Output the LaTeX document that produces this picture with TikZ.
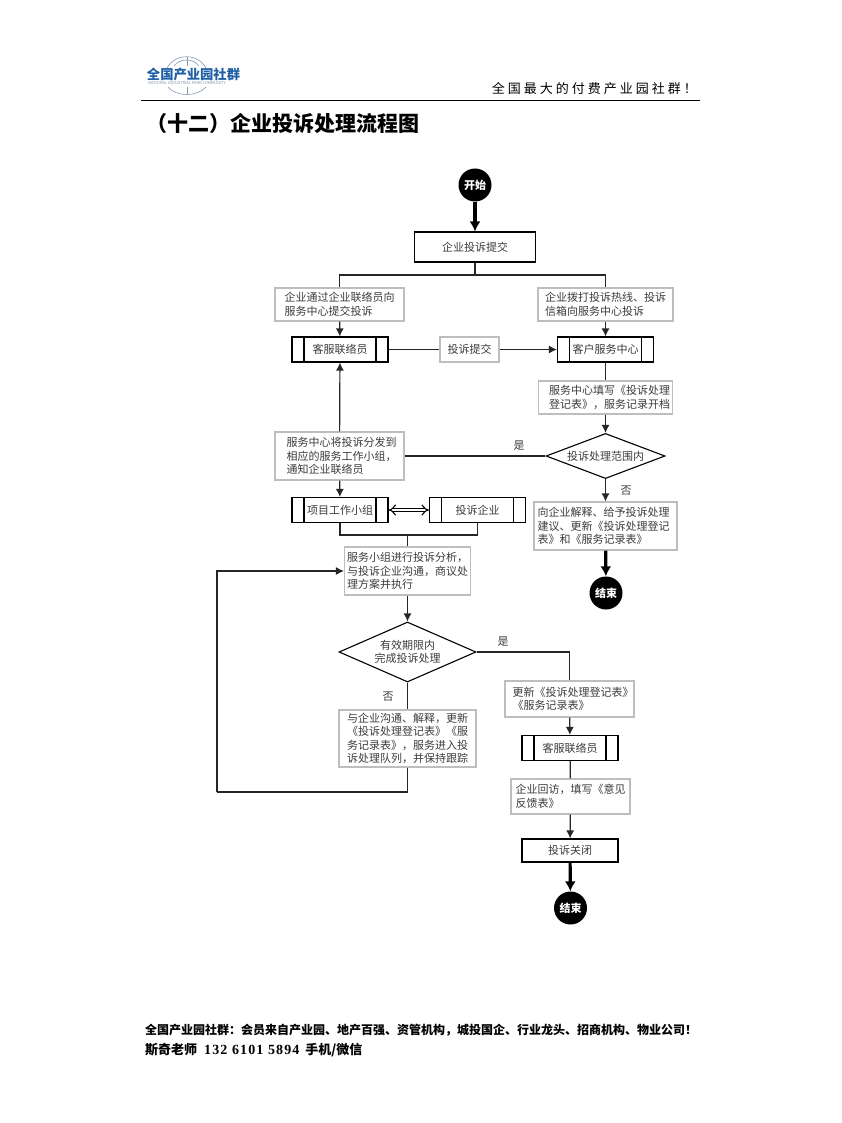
\documentclass[tikz,border=0pt]{standalone}
\usepackage{fontspec}
\usepackage{xcolor}
\usetikzlibrary{arrows.meta,positioning,calc,shapes.geometric}
\setmainfont{Noto Sans CJK SC}
\newfontfamily\spacedfont[LetterSpace=23]{Noto Sans CJK SC}
\newfontfamily\numfont[LetterSpace=8]{Liberation Serif}
\definecolor{flowBoxGray}{RGB}{190,190,190}
\definecolor{flowTextGray}{RGB}{60,60,60}
\definecolor{logoBlue}{RGB}{30,95,165}
\definecolor{logoGray}{RGB}{130,150,180}
\tikzset{
  notebox/.style={draw=flowBoxGray,line width=1.1pt,fill=white,text=flowTextGray,align=left,font=\fontsize{11}{13.5}\selectfont,inner sep=0pt},
  framebox/.style={draw=black,line width=1.1pt,fill=white,text=flowTextGray,font=\fontsize{11}{13.5}\selectfont,inner sep=0pt},
  rolebox/.style={framebox,minimum width=96pt,minimum height=25pt,path picture={
    \draw[line width=1.1pt] ([xshift=12pt]path picture bounding box.north west) -- ([xshift=12pt]path picture bounding box.south west);
    \draw[line width=1.1pt] ([xshift=-12pt]path picture bounding box.north east) -- ([xshift=-12pt]path picture bounding box.south east);}},
  decision/.style={diamond,aspect=2.2,framebox,align=center},
  terminal/.style={circle,fill=black,text=white,minimum size=33pt,inner sep=0pt,font=\fontsize{11}{13}\selectfont\bfseries},
  branchlabel/.style={text=flowTextGray,font=\fontsize{11}{13}\selectfont,inner sep=0pt},
  flowline/.style={line width=1.2pt,draw=black!85},
  flowarrow/.style={flowline,-{Latex[length=8pt,width=8pt]}},
  heavyarrow/.style={line width=3.2pt,draw=black,-{Latex[length=10pt,width=11pt]}}
}
\begin{document}
\begin{tikzpicture}[x=1pt,y=-1pt]
\useasboundingbox (0,0) rectangle (842,1123);
\draw[logoGray,line width=0.6pt] (167,68) .. controls (175,53) and (198,53) .. (206,68);
\draw[logoGray,line width=0.6pt] (174,66) .. controls (180,58) and (193,58) .. (199,66);
\draw[logoGray,line width=0.6pt] (168,87) .. controls (176,97) and (197,97) .. (206,87);
\draw[logoGray,line width=0.6pt] (187,57) -- (187,66) (187,87) -- (187,94);
\node[text=logoBlue,inner sep=0pt,font=\fontsize{13.3}{13}\selectfont\bfseries] (logotext) at (193.5,74) {全国产业园社群};
\node[text=logoGray,inner sep=0pt,font=\fontsize{4}{4}\selectfont] (logosub) at (187,83) {NATIONAL INDUSTRIAL PARK COMMUNITY};
\node[anchor=east,inner sep=0pt,font=\spacedfont\fontsize{13}{13}\selectfont] (slogan) at (697,89) {全国最大的付费产业园社群！};
\draw[line width=1pt] (141,101) -- (700,101);
\node[anchor=west,inner sep=0pt,font=\fontsize{21}{21}\selectfont\bfseries] (title) at (146,124) {（十二）企业投诉处理流程图};

\node[terminal] (start) at (475,185) {开始};
\node[framebox,minimum width=121pt,minimum height=30pt] (submit) at (475,247) {企业投诉提交};
\coordinate (split) at (475,275);
\node[notebox,minimum width=129pt,minimum height=33pt] (viacontact) at (339.5,304.5) {企业通过企业联络员向\\服务中心提交投诉};
\node[notebox,minimum width=135pt,minimum height=33pt] (viahotline) at (605.5,304.5) {企业拨打投诉热线、投诉\\信箱向服务中心投诉};
\node[rolebox] (contact) at (340,349.5) {客服联络员};
\node[notebox,minimum width=59pt,minimum height=25pt] (handover) at (469.5,349.5) {投诉提交};
\node[rolebox] (center) at (605.5,349.5) {客户服务中心};
\node[notebox,minimum width=134pt,minimum height=33pt] (register) at (605.5,397.5) {\hspace*{8pt}服务中心填写《投诉处理\\\hspace*{8pt}登记表》，服务记录开档};
\node[decision,minimum width=119pt,minimum height=45pt] (scope) at (605.5,456) {投诉处理范围内};
\node[notebox,minimum width=129pt,minimum height=48pt] (dispatch) at (339.5,456) {\hspace*{4pt}服务中心将投诉分发到\\\hspace*{4pt}相应的服务工作小组，\\\hspace*{4pt}通知企业联络员};
\node[branchlabel] (scopeyes) at (519,446) {是};
\node[branchlabel] (scopeno) at (626,491) {否};
\node[notebox,minimum width=143pt,minimum height=48pt] (explain) at (605.5,526) {向企业解释、给予投诉处理\hspace*{4pt}\\建议、更新《投诉处理登记\\表》和《服务记录表》};
\node[terminal] (endone) at (606,593) {结束};
\node[rolebox] (team) at (340,510) {项目工作小组};
\node[rolebox] (company) at (477.5,510) {投诉企业};
\coordinate (merge) at (407.5,535);
\node[notebox,minimum width=126pt,minimum height=48pt] (analysis) at (407.5,571) {服务小组进行投诉分析，\\与投诉企业沟通，商议处\\理方案并执行};
\node[decision,minimum width=137pt,minimum height=60pt] (deadline) at (407.5,652) {有效期限内\\完成投诉处理};
\node[branchlabel] (deadlineyes) at (503,642) {是};
\node[branchlabel] (deadlineno) at (388,697) {否};
\node[notebox,minimum width=137pt,minimum height=57pt] (queue) at (407.5,738.5) {与企业沟通、解释，更新\\《投诉处理登记表》《服\\务记录表》，服务进入投\\诉处理队列，并保持跟踪};
\coordinate (loopback) at (217,792);
\node[notebox,minimum width=129pt,minimum height=36pt] (update) at (569.5,699) {\hspace*{7pt}更新《投诉处理登记表》\\\hspace*{7pt}《服务记录表》};
\node[rolebox] (contacttwo) at (570,748) {客服联络员};
\node[notebox,minimum width=119pt,minimum height=35pt] (visit) at (570.5,796.5) {企业回访，填写《意见\\反馈表》};
\node[framebox,minimum width=96pt,minimum height=23pt] (closed) at (570,850.5) {投诉关闭};
\node[terminal] (endtwo) at (570.5,908) {结束};

\draw[heavyarrow] (start) -- (submit);
\draw[flowline] (submit) -- (split);
\draw[flowline] (split) -| (viacontact.north);
\draw[flowline] (split) -| (viahotline.north);
\draw[flowarrow] (viacontact) -- (contact);
\draw[flowarrow] (viahotline) -- (center);
\draw[flowline] (contact) -- (handover);
\draw[flowarrow] (handover) -- (center);
\draw[flowline] (center) -- (register);
\draw[flowarrow] (register) -- (scope);
\draw[flowline] (scope) -- (dispatch);
\draw[flowarrow] (dispatch) -- (contact);
\draw[flowarrow] (dispatch) -- (team);
\draw[flowarrow] (scope) -- (explain);
\draw[heavyarrow] (explain) -- (endone);
\draw[{Implies[length=7pt,width=11pt]}-{Implies[length=7pt,width=11pt]},double,double distance=2.6pt,line width=1.1pt] (team) -- (company);
\draw[flowline] (team.south) |- (merge);
\draw[flowline] (company.south) |- (merge);
\draw[flowline] (merge) -- (analysis);
\draw[flowarrow] (analysis) -- (deadline);
\draw[flowline] (deadline.east) -| (update.north);
\draw[flowline] (deadline) -- (queue);
\draw[flowline] (queue.south) |- (loopback);
\draw[flowarrow] (loopback) |- (analysis.west);
\draw[flowarrow] (update) -- (contacttwo);
\draw[flowline] (contacttwo) -- (visit);
\draw[flowarrow] (visit) -- (closed);
\draw[heavyarrow] (closed) -- (endtwo);

\node[anchor=west,inner sep=0pt,font=\fontsize{12}{12}\selectfont\bfseries] (footerone) at (145,1030) {全国产业园社群：会员来自产业园、地产百强、资管机构，城投国企、行业龙头、招商机构、物业公司！};
\node[anchor=west,inner sep=0pt,font=\fontsize{13}{13}\selectfont\bfseries] (footertwo) at (145,1050) {斯奇老师\hspace{7pt}{\numfont\fontsize{14}{14}\selectfont 132 6101 5894}\hspace{6pt}手机/微信};
\end{tikzpicture}
\end{document}
